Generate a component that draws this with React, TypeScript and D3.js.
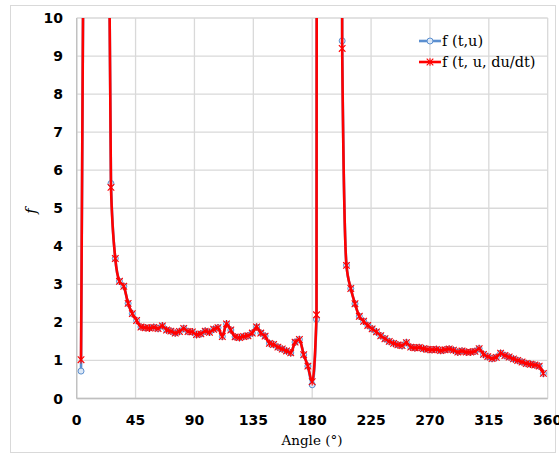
import React from 'react';
import * as d3 from 'd3';

// Angle (°) of each sample
const angles = [
  3.3, 6.5, 9.8, 13.1, 16.4, 19.6, 22.9, 26.2, 29.5, 32.7,
  36.0, 39.3, 42.5, 45.8, 49.1, 52.4, 55.6, 58.9, 62.2, 65.5,
  68.7, 72.0, 75.3, 78.5, 81.8, 85.1, 88.4, 91.6, 94.9, 98.2,
  101.5, 104.7, 108.0, 111.3, 114.5, 117.8, 121.1, 124.4, 127.6, 130.9,
  134.2, 137.5, 140.7, 144.0, 147.3, 150.5, 153.8, 157.1, 160.4, 163.6,
  166.9, 170.2, 173.5, 176.7, 180.0, 183.3, 186.5, 189.8, 193.1, 196.4,
  199.6, 202.9, 206.2, 209.5, 212.7, 216.0, 219.3, 222.5, 225.8, 229.1,
  232.4, 235.6, 238.9, 242.2, 245.5, 248.7, 252.0, 255.3, 258.5, 261.8,
  265.1, 268.4, 271.6, 274.9, 278.2, 281.5, 284.7, 288.0, 291.3, 294.5,
  297.8, 301.1, 304.4, 307.6, 310.9, 314.2, 317.5, 320.7, 324.0, 327.3,
  330.5, 333.8, 337.1, 340.4, 343.6, 346.9, 350.2, 353.5, 356.7,
];

// f (t,u)
const fTU = [
  0.72, 20, 60, 90, 90, 60, 20, 5.65, 3.68, 3.08,
  2.95, 2.5, 2.23, 2.05, 1.88, 1.86, 1.85, 1.87, 1.84, 1.91,
  1.8, 1.77, 1.72, 1.76, 1.84, 1.76, 1.75, 1.68, 1.7, 1.77,
  1.74, 1.82, 1.86, 1.63, 1.96, 1.8, 1.62, 1.6, 1.63, 1.65,
  1.72, 1.88, 1.72, 1.64, 1.45, 1.42, 1.35, 1.3, 1.25, 1.2,
  1.48, 1.55, 1.15, 0.85, 0.36, 2.08, 200, 300, 300, 300,
  200, 9.4, 3.5, 2.89, 2.49, 2.16, 2.03, 1.92, 1.83, 1.75,
  1.65, 1.57, 1.5, 1.45, 1.41, 1.39, 1.47, 1.35, 1.33, 1.34,
  1.31, 1.29, 1.28, 1.29, 1.26, 1.28, 1.3, 1.27, 1.22, 1.25,
  1.22, 1.22, 1.24, 1.31, 1.16, 1.1, 1.05, 1.08, 1.19, 1.13,
  1.09, 1.04, 1.0, 0.96, 0.92, 0.9, 0.88, 0.85, 0.66,
];

// f (t, u, du/dt)
const fTUdudt = [
  1.02, 20, 60, 90, 90, 60, 20, 5.55, 3.68, 3.08,
  2.95, 2.5, 2.23, 2.05, 1.88, 1.86, 1.85, 1.87, 1.84, 1.91,
  1.8, 1.77, 1.72, 1.76, 1.84, 1.76, 1.75, 1.68, 1.7, 1.77,
  1.74, 1.82, 1.86, 1.63, 1.96, 1.8, 1.62, 1.6, 1.63, 1.65,
  1.72, 1.88, 1.72, 1.64, 1.45, 1.42, 1.35, 1.3, 1.25, 1.2,
  1.48, 1.55, 1.15, 0.85, 0.44, 2.2, 200, 300, 300, 300,
  200, 9.2, 3.5, 2.89, 2.49, 2.16, 2.03, 1.92, 1.83, 1.75,
  1.65, 1.57, 1.5, 1.45, 1.41, 1.39, 1.47, 1.35, 1.33, 1.34,
  1.31, 1.29, 1.28, 1.29, 1.26, 1.28, 1.3, 1.27, 1.22, 1.25,
  1.22, 1.22, 1.24, 1.31, 1.16, 1.1, 1.05, 1.08, 1.19, 1.13,
  1.09, 1.04, 1.0, 0.96, 0.92, 0.9, 0.88, 0.85, 0.66,
];

const xTicks = [0, 45, 90, 135, 180, 225, 270, 315, 360];
const yTicks = [0, 1, 2, 3, 4, 5, 6, 7, 8, 9, 10];
const seriesNames = ['f (t,u)', 'f (t, u, du/dt)'];

const W = 559;
const H = 457;
const L = 76.7, R = 547.7, T = 18, B = 398.5;

const BLUE = '#5b8fd0';
const BLUE_FILL = '#dce8f6';
const RED = '#ff0000';
const GRID = '#d9d9d9';

function Star({ cx, cy, s = 3.3 }: { cx: number; cy: number; s?: number }) {
  return (
    <path
      d={`M${cx - s},${cy - s}L${cx + s},${cy + s}M${cx - s},${cy + s}L${cx + s},${cy - s}M${cx},${cy - s - 0.5}L${cx},${cy + s + 0.5}`}
      stroke={RED}
      strokeWidth={1.1}
      fill="none"
    />
  );
}

export default function App() {
  const x = d3.scaleLinear().domain([0, 360]).range([L, R]);
  const y = d3.scaleLinear().domain([0, 10]).range([B, T]);

  const mkLine = (vals: number[]) =>
    d3
      .line<number>()
      .x((_, i) => x(angles[i]))
      .y((d) => y(d))
      .curve(d3.curveMonotoneX)(vals) || '';

  const inRange = (v: number) => v <= 10;

  return (
    <svg width={W} height={H} style={{ position: 'absolute', left: 0, top: 0 }}>
      <defs>
        <clipPath id="plotclip">
          <rect x={L - 5} y={T} width={R - L + 10} height={B - T + 5} />
        </clipPath>
      </defs>
      <rect x={0} y={0} width={W} height={H} fill="#fff" />
      <rect x={10.5} y={5.5} width={545} height={447} fill="none" stroke={GRID} strokeWidth={1} />

      {/* gridlines */}
      {yTicks.map((t) => (
        <line key={'gy' + t} x1={L} x2={R} y1={y(t)} y2={y(t)} stroke={GRID} strokeWidth={1.3} />
      ))}
      {xTicks.map((t) => (
        <line key={'gx' + t} x1={x(t)} x2={x(t)} y1={T} y2={B} stroke={GRID} strokeWidth={1.3} />
      ))}
      {/* axes */}
      <line x1={L} x2={L} y1={T} y2={B} stroke="#bfbfbf" strokeWidth={1.3} />
      <line x1={L} x2={R} y1={B} y2={B} stroke="#bfbfbf" strokeWidth={1.3} />

      {/* tick labels */}
      {yTicks.map((t) => (
        <text
          key={'ty' + t}
          x={63}
          y={y(t)}
          textAnchor="end"
          dominantBaseline="central"
          fontFamily="DejaVu Sans"
          fontWeight="bold"
          fontSize={14}
          fill="#000"
        >
          {t}
        </text>
      ))}
      {xTicks.map((t) => (
        <text
          key={'tx' + t}
          x={x(t)}
          y={420}
          textAnchor="middle"
          dominantBaseline="central"
          fontFamily="DejaVu Sans"
          fontWeight="bold"
          fontSize={14}
          fill="#000"
        >
          {t}
        </text>
      ))}

      {/* axis titles */}
      <text
        x={312}
        y={440}
        textAnchor="middle"
        dominantBaseline="central"
        fontFamily="DejaVu Serif"
        fontSize={13.5}
        fill="#000"
      >
        Angle (°)
      </text>
      <text
        transform="translate(31,211) rotate(-90)"
        textAnchor="middle"
        dominantBaseline="central"
        fontFamily="DejaVu Serif"
        fontStyle="italic"
        fontSize={15}
        fill="#000"
      >
        f
      </text>

      {/* series */}
      <g clipPath="url(#plotclip)">
        <path d={mkLine(fTU)} fill="none" stroke={BLUE} strokeWidth={2.6} />
        {fTU.map((v, i) =>
          inRange(v) ? (
            <circle key={'b' + i} cx={x(angles[i])} cy={y(v)} r={3} fill={BLUE_FILL} stroke={BLUE} strokeWidth={1} />
          ) : null
        )}
        <path d={mkLine(fTUdudt)} fill="none" stroke={RED} strokeWidth={2.6} />
        {fTUdudt.map((v, i) =>
          inRange(v) ? <Star key={'r' + i} cx={x(angles[i])} cy={y(v)} /> : null
        )}
      </g>

      {/* legend */}
      <g>
        <line x1={419} x2={441} y1={41} y2={41} stroke={BLUE} strokeWidth={2.6} />
        <circle cx={430} cy={41} r={3} fill={BLUE_FILL} stroke={BLUE} strokeWidth={1} />
        <text x={442} y={41} dominantBaseline="central" fontFamily="DejaVu Serif" fontSize={14.5} fill="#000">
          {seriesNames[0]}
        </text>
        <line x1={419} x2={441} y1={62} y2={62} stroke={RED} strokeWidth={2.6} />
        <Star cx={430} cy={62} />
        <text x={442} y={62} dominantBaseline="central" fontFamily="DejaVu Serif" fontSize={14.5} fill="#000">
          {seriesNames[1]}
        </text>
      </g>
    </svg>
  );
}
